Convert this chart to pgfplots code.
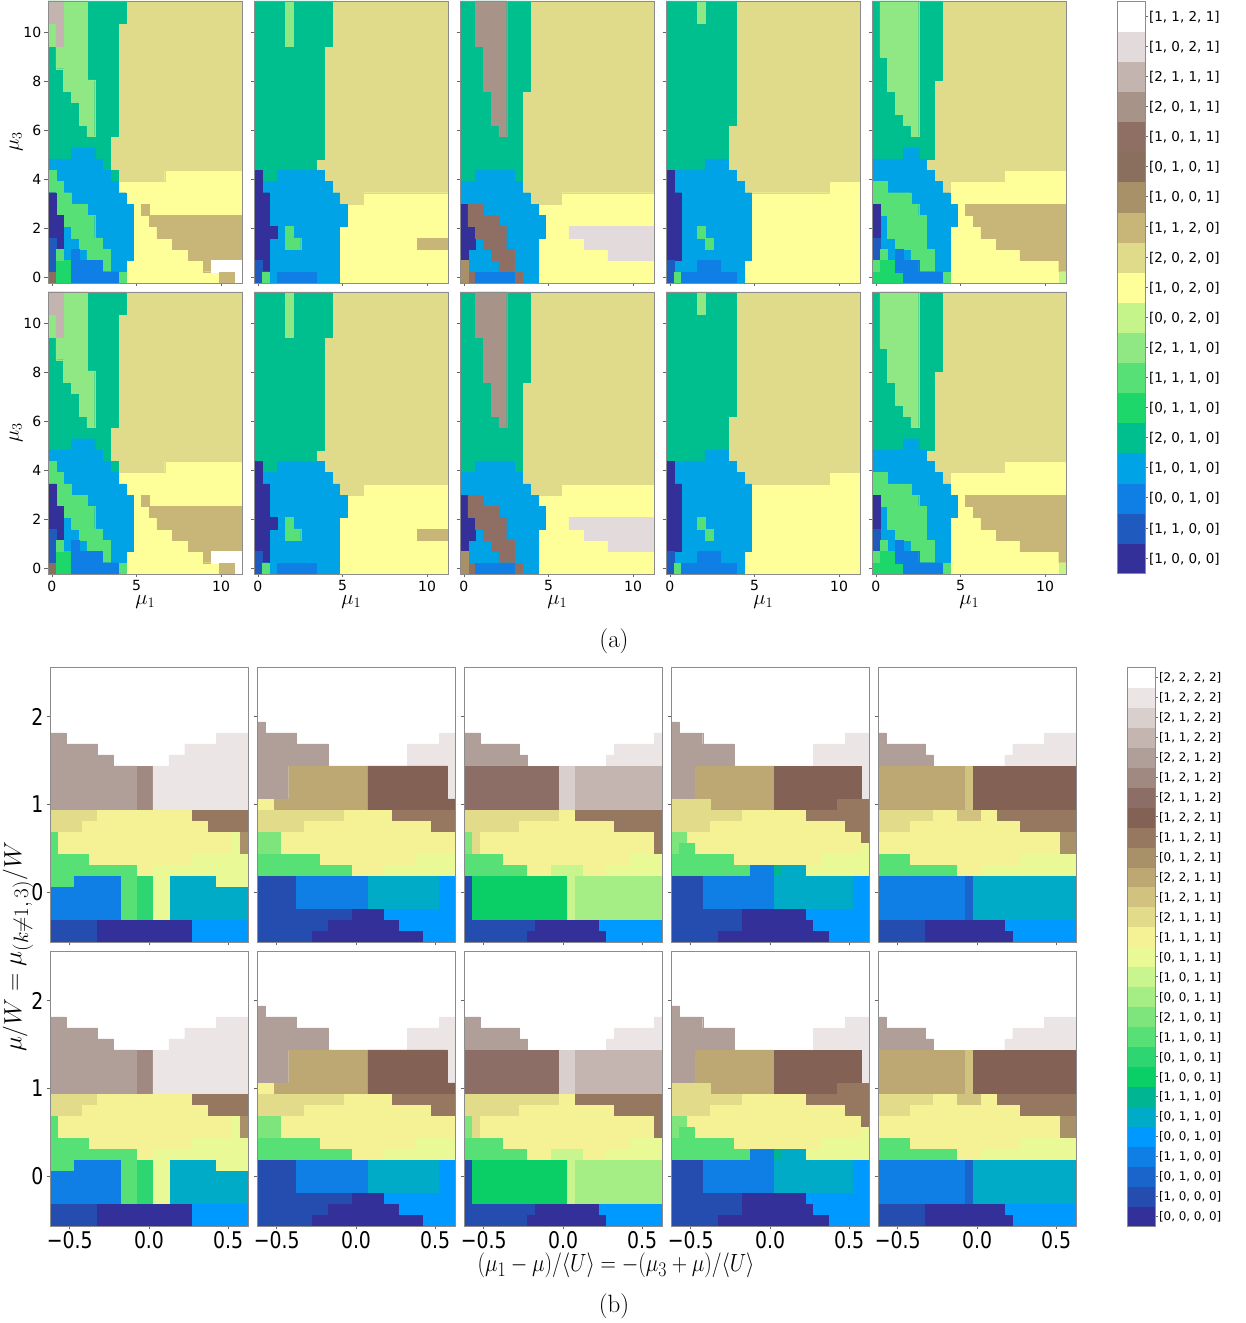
\documentclass[border=0pt]{standalone}
\usepackage{graphicx}
\usepackage{fontspec}
\usepackage{pgfplots}
\pgfplotsset{compat=1.18}
\newfontfamily\djv{DejaVu Sans}
% palette (a)
\definecolor{aWh}{HTML}{FFFFFF}\definecolor{aMv}{HTML}{E3DBDB}\definecolor{aGp}{HTML}{C4B4B0}\definecolor{aTp}{HTML}{A89388}
\definecolor{aBr}{HTML}{8F6F64}\definecolor{aBd}{HTML}{8A6E5E}\definecolor{aTb}{HTML}{A89068}\definecolor{aTn}{HTML}{C8B679}
\definecolor{aK}{HTML}{E0DB8B}\definecolor{aY}{HTML}{FFFF99}\definecolor{aPg}{HTML}{C5F58A}\definecolor{aLg}{HTML}{8FE883}
\definecolor{aG}{HTML}{57E076}\definecolor{aBg}{HTML}{1DD76B}\definecolor{aTe}{HTML}{00BF8F}\definecolor{aB}{HTML}{00A3E6}
\definecolor{aDb}{HTML}{0F7FE6}\definecolor{aMb}{HTML}{1F5ABF}\definecolor{aNv}{HTML}{34309A}
% palette (b)
\definecolor{bWh}{HTML}{FFFFFF}\definecolor{bL}{HTML}{EBE5E5}\definecolor{bMm}{HTML}{D9CFCD}\definecolor{bG}{HTML}{C5B5B0}
\definecolor{bTa}{HTML}{B09E98}\definecolor{bTb}{HTML}{A08980}\definecolor{bBra}{HTML}{8D6E66}\definecolor{bBrb}{HTML}{836155}
\definecolor{bBrc}{HTML}{967860}\definecolor{bBrd}{HTML}{A89068}\definecolor{bSa}{HTML}{BDA873}\definecolor{bSb}{HTML}{D2C27F}
\definecolor{bK}{HTML}{E2DC8A}\definecolor{bY}{HTML}{F5F195}\definecolor{bP}{HTML}{E9F995}\definecolor{bLg}{HTML}{C9F58E}
\definecolor{bMg}{HTML}{A5ED85}\definecolor{bGb}{HTML}{7DE57C}\definecolor{bGr}{HTML}{57E076}\definecolor{bGs}{HTML}{2ED672}
\definecolor{bGt}{HTML}{0ACF66}\definecolor{bTe}{HTML}{00B591}\definecolor{bCy}{HTML}{00ABC8}\definecolor{bSk}{HTML}{0099FF}
\definecolor{bBl}{HTML}{0F7FE6}\definecolor{bBm}{HTML}{1A65CC}\definecolor{bBd}{HTML}{254DB0}\definecolor{bNv}{HTML}{34309A}

% region outlines, given in cell edges of the 25 x 25 grids
\newcommand\PA[2]{\addplot[fill=#1,draw=#1,line width=.25pt] table[row sep=\\,x expr=(\thisrowno{0}-0.5)*0.46,y expr=(\thisrowno{1}-0.5)*0.46]{#2} --cycle;}
\newcommand\RA[5]{\PA{#1}{#2 #4\\#3 #4\\#3 #5\\#2 #5\\}}
\newcommand\PB[2]{\addplot[fill=#1,draw=#1,line width=.25pt] table[row sep=\\,x expr=-0.625+0.05*\thisrowno{0},y expr=-0.5625+0.125*\thisrowno{1}]{#2} --cycle;}
\newcommand\R[5]{\PB{#3}{#4 #1\\#5 #1\\#5 #2\\#4 #2\\}}
\newcommand\CB[3]{\addplot[fill=#1,draw=#1,line width=.25pt] coordinates {(0,#2)(1,#2)(1,#3)(0,#3)} --cycle;}

\newcommand\dAa{%
\RA{aY}{0}{25}{0}{25}
\PA{aK}{10 25\\25 25\\25 10\\15 10\\15 9\\9 9\\9 10\\8 10\\8 13\\9 13\\9 23\\10 23\\}
\PA{aTe}{0 9\\9 9\\9 10\\8 10\\8 13\\9 13\\9 23\\10 23\\10 25\\0 25\\}
\PA{aLg}{0 25\\5 25\\5 18\\6 18\\6 13\\5 13\\5 14\\4 14\\4 16\\3 16\\3 17\\2 17\\2 19\\1 19\\1 21\\0 21\\}
\PA{aGp}{0 25\\2 25\\2 21\\1 21\\1 23\\0 23\\}
\PA{aB}{0 11\\3 11\\3 12\\6 12\\6 11\\7 11\\7 10\\8 10\\8 9\\9 9\\9 8\\10 8\\10 7\\11 7\\11 2\\10 2\\10 0\\0 0\\}
\PA{aG}{0 10\\1 10\\1 9\\2 9\\2 8\\3 8\\3 7\\5 7\\5 6\\6 6\\6 4\\7 4\\7 3\\8 3\\8 1\\7 1\\7 2\\5 2\\5 3\\4 3\\4 4\\3 4\\3 5\\2 5\\2 6\\1 6\\1 8\\0 8\\}
\PA{aNv}{0 8\\1 8\\1 6\\2 6\\2 3\\1 3\\1 4\\0 4\\}
\RA{aMb}{0}{1}{1}{4}
\RA{aBd}{0}{1}{0}{1}
\RA{aBg}{1}{3}{0}{2}
\RA{aG}{1}{2}{2}{3}
\RA{aG}{9}{10}{0}{1}
\PA{aDb}{3 0\\9 0\\9 1\\7 1\\7 2\\4 2\\4 3\\3 3\\}
\RA{aTn}{12}{13}{6}{7}
\PA{aTn}{13 6\\25 6\\25 2\\21 2\\21 1\\20 1\\20 2\\18 2\\18 3\\16 3\\16 4\\14 4\\14 5\\13 5\\}
\RA{aWh}{21}{25}{1}{2}
\RA{aTn}{22}{24}{0}{1}
\RA{aWh}{24}{25}{0}{1}
}
\newcommand\dAb{%
\RA{aY}{0}{25}{0}{25}
\PA{aK}{10 25\\25 25\\25 8\\14 8\\14 7\\11 7\\11 8\\10 8\\10 9\\9 9\\9 10\\8 10\\8 11\\9 11\\9 21\\10 21\\}
\PA{aTe}{0 9\\9 9\\9 10\\8 10\\8 11\\9 11\\9 21\\10 21\\10 25\\0 25\\}
\RA{aLg}{4}{5}{21}{25}
\PA{aB}{0 0\\11 0\\11 5\\12 5\\12 7\\11 7\\11 8\\10 8\\10 9\\9 9\\9 10\\3 10\\3 9\\0 9\\}
\PA{aNv}{0 2\\1 2\\1 1\\2 1\\2 4\\3 4\\3 5\\2 5\\2 8\\1 8\\1 10\\0 10\\}
\RA{aMb}{0}{1}{0}{2}
\RA{aG}{1}{2}{0}{1}
\PA{aG}{4 3\\6 3\\6 4\\5 4\\5 5\\4 5\\}
\RA{aDb}{3}{8}{0}{1}
\RA{aTn}{21}{25}{3}{4}
}
\newcommand\dAc{%
\RA{aY}{0}{25}{0}{25}
\PA{aK}{9 25\\25 25\\25 8\\13 8\\13 7\\9 7\\9 8\\8 8\\8 17\\9 17\\}
\PA{aTe}{0 9\\8 9\\8 17\\9 17\\9 25\\0 25\\}
\PA{aTp}{2 25\\6 25\\6 13\\5 13\\5 14\\4 14\\4 17\\3 17\\3 21\\2 21\\}
\PA{aB}{2 10\\7 10\\7 9\\8 9\\8 8\\9 8\\9 7\\10 7\\10 6\\11 6\\11 4\\10 4\\10 0\\0 0\\0 9\\2 9\\}
\PA{aNv}{0 2\\1 2\\1 3\\2 3\\2 5\\1 5\\1 7\\0 7\\}
\PA{aBr}{1 7\\3 7\\3 6\\5 6\\5 5\\6 5\\6 3\\7 3\\7 1\\5 1\\5 2\\4 2\\4 3\\3 3\\3 4\\2 4\\2 5\\1 5\\}
\RA{aBr}{7}{8}{0}{1}
\RA{aBr}{1}{2}{0}{1}
\RA{aTb}{0}{1}{0}{2}
\RA{aDb}{2}{7}{0}{1}
\PA{aMv}{14 5\\25 5\\25 2\\19 2\\19 3\\16 3\\16 4\\14 4\\}
}
\newcommand\dAd{%
\RA{aY}{0}{25}{0}{25}
\PA{aK}{9 25\\25 25\\25 9\\21 9\\21 8\\10 8\\10 9\\9 9\\9 10\\8 10\\8 14\\9 14\\}
\PA{aTe}{0 10\\5 10\\5 11\\8 11\\8 14\\9 14\\9 25\\0 25\\}
\RA{aLg}{4}{5}{23}{25}
\PA{aB}{0 0\\10 0\\10 2\\11 2\\11 8\\10 8\\10 9\\9 9\\9 10\\8 10\\8 11\\5 11\\5 10\\0 10\\}
\PA{aNv}{0 2\\2 2\\2 8\\1 8\\1 10\\0 10\\}
\RA{aMb}{0}{1}{0}{2}
\RA{aG}{1}{2}{0}{1}
\RA{aG}{4}{5}{4}{5}
\RA{aG}{5}{6}{3}{4}
\RA{aDb}{2}{9}{0}{1}
\RA{aDb}{4}{7}{1}{2}
}
\newcommand\dAe{%
\RA{aY}{0}{25}{0}{25}
\PA{aK}{9 25\\25 25\\25 10\\17 10\\17 9\\10 9\\10 8\\9 8\\9 9\\8 9\\8 10\\7 10\\7 11\\8 11\\8 18\\9 18\\}
\PA{aTe}{0 11\\8 11\\8 18\\9 18\\9 25\\0 25\\}
\PA{aLg}{1 25\\6 25\\6 13\\5 13\\5 14\\4 14\\4 15\\3 15\\3 17\\2 17\\2 20\\1 20\\}
\PA{aB}{0 11\\4 11\\4 12\\6 12\\6 11\\7 11\\7 10\\8 10\\8 9\\9 9\\9 8\\10 8\\10 7\\11 7\\11 5\\10 5\\10 0\\0 0\\}
\PA{aG}{0 9\\2 9\\2 8\\5 8\\5 7\\6 7\\6 6\\7 6\\7 3\\8 3\\8 1\\6 1\\6 2\\5 2\\5 3\\3 3\\3 4\\2 4\\2 6\\1 6\\1 7\\0 7\\}
\RA{aNv}{0}{1}{4}{7}
\RA{aMb}{0}{1}{2}{4}
\RA{aG}{1}{2}{2}{3}
\RA{aG}{0}{1}{1}{2}
\RA{aBg}{1}{3}{1}{2}
\RA{aBg}{0}{4}{0}{1}
\RA{aG}{9}{10}{0}{1}
\PA{aDb}{4 0\\9 0\\9 1\\6 1\\6 2\\4 2\\4 3\\3 3\\3 1\\4 1\\}
\PA{aTn}{12 7\\25 7\\25 1\\24 1\\24 2\\19 2\\19 3\\16 3\\16 4\\14 4\\14 5\\13 5\\13 6\\12 6\\}
\RA{aPg}{24}{25}{0}{1}
}
\newcommand\dBa{%
\PB{bTa}{0 12\\11 12\\11 16\\8 16\\8 17\\6 17\\6 18\\2 18\\2 19\\0 19\\}
\R{12}{16}{bTb}{11}{13}
\PB{bL}{13 12\\25 12\\25 19\\21 19\\21 18\\17 18\\17 17\\15 17\\15 16\\13 16\\}
\R{11}{12}{bK}{0}{6}\R{11}{12}{bY}{6}{18}\R{11}{12}{bBrc}{18}{25}
\R{10}{11}{bK}{0}{4}\R{10}{11}{bY}{4}{20}\R{10}{11}{bBrc}{20}{25}
\R{8}{10}{bGr}{0}{1}\R{8}{10}{bY}{1}{23}\R{8}{10}{bP}{23}{24}\R{8}{10}{bBrd}{24}{25}
\R{7}{8}{bGr}{0}{5}\R{7}{8}{bY}{5}{18}\R{7}{8}{bP}{18}{25}
\R{6}{7}{bGr}{0}{11}\R{6}{7}{bY}{11}{13}\R{6}{7}{bP}{13}{25}
\R{5}{6}{bGr}{0}{3}\R{5}{6}{bBl}{3}{9}\R{5}{6}{bCy}{15}{21}\R{5}{6}{bP}{21}{25}
\R{2}{5}{bBl}{0}{9}\R{2}{5}{bCy}{15}{25}
\R{2}{6}{bGr}{9}{11}\R{2}{6}{bGs}{11}{13}\R{2}{6}{bP}{13}{15}
\R{0}{2}{bBd}{0}{6}\R{0}{2}{bNv}{6}{18}\R{0}{2}{bSk}{18}{25}
}
\newcommand\dBb{%
\PB{bTa}{0 13\\4 13\\4 16\\9 16\\9 18\\5 18\\5 19\\1 19\\1 20\\0 20\\}
\PB{bL}{24 13\\25 13\\25 19\\23 19\\23 18\\19 18\\19 16\\24 16\\}
\PB{bSa}{2 12\\14 12\\14 16\\4 16\\4 13\\2 13\\}
\PB{bBrb}{14 12\\25 12\\25 13\\24 13\\24 16\\14 16\\}
\R{12}{13}{bY}{0}{2}
\R{11}{12}{bK}{0}{11}\R{11}{12}{bY}{11}{17}\R{11}{12}{bBrc}{17}{25}
\R{10}{11}{bK}{0}{6}\R{10}{11}{bY}{6}{22}\R{10}{11}{bBrc}{22}{25}
\R{8}{10}{bGb}{0}{3}\R{8}{10}{bY}{3}{25}
\R{7}{8}{bGr}{0}{8}\R{7}{8}{bY}{8}{20}\R{7}{8}{bP}{20}{25}
\R{6}{7}{bGr}{0}{12}\R{6}{7}{bY}{12}{16}\R{6}{7}{bP}{16}{25}
\R{3}{6}{bBd}{0}{5}\R{3}{6}{bBl}{5}{14}\R{3}{6}{bCy}{14}{23}\R{3}{6}{bSk}{23}{25}
\R{2}{3}{bBd}{0}{12}\R{2}{3}{bNv}{12}{16}\R{2}{3}{bSk}{16}{25}
\R{1}{2}{bBd}{0}{9}\R{1}{2}{bNv}{9}{18}\R{1}{2}{bSk}{18}{25}
\R{0}{1}{bBd}{0}{7}\R{0}{1}{bNv}{7}{21}\R{0}{1}{bSk}{21}{25}
}
\newcommand\dBc{%
\PB{bTa}{0 16\\8 16\\8 17\\7 17\\7 18\\2 18\\2 19\\0 19\\}
\PB{bL}{18 16\\25 16\\25 19\\24 19\\24 18\\19 18\\19 17\\18 17\\}
\R{12}{16}{bBra}{0}{12}\R{12}{16}{bMm}{12}{14}\R{12}{16}{bG}{14}{25}
\R{11}{12}{bK}{0}{12}\R{11}{12}{bY}{12}{14}\R{11}{12}{bBrc}{14}{25}
\R{10}{11}{bK}{0}{7}\R{10}{11}{bY}{7}{19}\R{10}{11}{bBrc}{19}{25}
\R{8}{10}{bGb}{0}{1}\R{8}{10}{bK}{1}{2}\R{8}{10}{bY}{2}{24}\R{8}{10}{bBrc}{24}{25}
\R{7}{8}{bGr}{0}{5}\R{7}{8}{bY}{5}{21}\R{7}{8}{bP}{21}{25}
\R{6}{7}{bGr}{0}{8}\R{6}{7}{bY}{8}{11}\R{6}{7}{bLg}{11}{15}\R{6}{7}{bY}{15}{18}\R{6}{7}{bP}{18}{25}
\R{2}{6}{bBd}{0}{1}\R{2}{6}{bGt}{1}{13}\R{2}{6}{bLg}{13}{14}\R{2}{6}{bMg}{14}{25}
\R{1}{2}{bBd}{0}{9}\R{1}{2}{bNv}{9}{17}\R{1}{2}{bSk}{17}{25}
\R{0}{1}{bBd}{0}{8}\R{0}{1}{bNv}{8}{18}\R{0}{1}{bSk}{18}{25}
}
\newcommand\dBd{%
\PB{bTa}{0 13\\3 13\\3 16\\8 16\\8 18\\4 18\\4 19\\1 19\\1 20\\0 20\\}
\PB{bL}{24 13\\25 13\\25 19\\22 19\\22 18\\18 18\\18 16\\24 16\\}
\PB{bSa}{5 12\\13 12\\13 16\\3 16\\3 13\\5 13\\}
\R{12}{16}{bBrb}{13}{21}\R{13}{16}{bBrb}{21}{24}\R{12}{13}{bBrc}{21}{25}
\R{12}{13}{bK}{0}{5}
\R{11}{12}{bK}{0}{9}\R{11}{12}{bY}{9}{17}\R{11}{12}{bBrc}{17}{25}
\R{10}{11}{bK}{0}{5}\R{10}{11}{bY}{5}{22}\R{10}{11}{bBrc}{22}{25}
\R{9}{10}{bGb}{0}{2}\R{9}{10}{bY}{2}{24}\R{9}{10}{bBrc}{24}{25}
\R{8}{9}{bGb}{0}{1}\R{8}{9}{bGr}{1}{3}\R{8}{9}{bY}{3}{24}\R{8}{9}{bP}{24}{25}
\R{7}{8}{bGr}{0}{8}\R{7}{8}{bY}{8}{19}\R{7}{8}{bP}{19}{25}
\R{6}{7}{bGr}{0}{10}\R{6}{7}{bBl}{10}{13}\R{6}{7}{bTe}{13}{14}\R{6}{7}{bCy}{14}{17}\R{6}{7}{bP}{17}{25}
\R{3}{6}{bBd}{0}{4}\R{3}{6}{bBl}{4}{13}\R{3}{6}{bCy}{13}{23}\R{3}{6}{bSk}{23}{25}
\R{2}{3}{bBd}{0}{9}\R{2}{3}{bNv}{9}{17}\R{2}{3}{bSk}{17}{25}
\R{1}{2}{bBd}{0}{9}\R{1}{2}{bNv}{9}{18}\R{1}{2}{bSk}{18}{25}
\R{0}{1}{bBd}{0}{6}\R{0}{1}{bNv}{6}{20}\R{0}{1}{bSk}{20}{25}
}
\newcommand\dBe{%
\PB{bTa}{0 16\\7 16\\7 17\\6 17\\6 18\\1 18\\1 19\\0 19\\}
\PB{bL}{16 16\\25 16\\25 19\\21 19\\21 18\\17 18\\17 17\\16 17\\}
\R{12}{16}{bSa}{0}{11}\R{12}{16}{bSb}{11}{12}\R{12}{16}{bBrb}{12}{25}
\R{11}{12}{bK}{0}{7}\R{11}{12}{bY}{7}{10}\R{11}{12}{bSb}{10}{13}\R{11}{12}{bY}{13}{15}\R{11}{12}{bBrc}{15}{25}
\R{10}{11}{bK}{0}{4}\R{10}{11}{bY}{4}{18}\R{10}{11}{bBrc}{18}{25}
\R{8}{10}{bY}{0}{23}\R{8}{10}{bBrd}{23}{25}
\R{7}{8}{bGr}{0}{4}\R{7}{8}{bY}{4}{18}\R{7}{8}{bP}{18}{25}
\R{6}{7}{bGr}{0}{10}\R{6}{7}{bY}{10}{13}\R{6}{7}{bP}{13}{25}
\R{2}{6}{bBl}{0}{11}\R{2}{6}{bBm}{11}{12}\R{2}{6}{bCy}{12}{25}
\R{1}{2}{bBd}{0}{6}\R{1}{2}{bNv}{6}{16}\R{1}{2}{bSk}{16}{25}
\R{0}{1}{bBd}{0}{6}\R{0}{1}{bNv}{6}{17}\R{0}{1}{bSk}{17}{25}
}
\newcommand\bt[1]{\scalebox{0.82}[1]{#1}}
\pgfplotsset{
 base/.style={scale only axis,axis on top,tick align=outside,xtick pos=bottom,ytick pos=left,
   axis line style={color=black!45,line width=.9pt},tick style={color=black!60,line width=.7pt},major tick length=3.5pt},
 pa/.style={base,width=194.5pt,height=282pt,xmin=-0.23,xmax=11.27,ymin=-0.23,ymax=11.27,
   xtick={0,5,10},ytick={0,2,4,6,8,10},xticklabels={},yticklabels={},
   tick label style={font=\fontsize{14}{14}\selectfont\djv,inner sep=0pt},
   xticklabel style={yshift=-3pt},yticklabel style={xshift=-3pt},
   xlabel style={at={(axis description cs:0.5,-0.098)},anchor=center,inner sep=0pt,font=\fontsize{20}{20}\selectfont},
   ylabel style={at={(axis description cs:-0.164,0.5)},anchor=center,inner sep=0pt,font=\fontsize{20}{20}\selectfont}},
 lx/.style={xticklabels={0,5,10},xlabel={$\mu_1$}},
 ly/.style={yticklabels={0,2,4,6,8,10},ylabel={$\mu_3$}},
 pb/.style={base,width=198pt,height=275pt,xmin=-0.625,xmax=0.625,ymin=-0.5625,ymax=2.5625,
   xtick={-0.5,0,0.5},ytick={0,1,2},xticklabels={},yticklabels={},
   tick label style={font=\fontsize{23}{23}\selectfont\djv,inner sep=0pt},
   xticklabel style={yshift=-2pt},yticklabel style={xshift=-3pt}},
 bx/.style={xticklabels={\bt{−0.5},\bt{0.0},\bt{0.5}}},
 by/.style={yticklabels={\bt{0},\bt{1},\bt{2}}},
 cbar/.style={scale only axis,axis on top,width=28pt,xmin=0,xmax=1,xtick=\empty,tick align=outside,ytick pos=right,
   axis line style={color=black!45,line width=.9pt},tick style={color=black!60,line width=.6pt},major tick length=3pt,
   yticklabel style={anchor=west,xshift=-2.5pt,yshift=-1pt}},
}
\begin{document}
\begin{tikzpicture}[x=1pt,y=1pt]
\useasboundingbox (0,0) rectangle (1246,1323);
% ---------- (a)
\begin{axis}[pa,ly,at={(48pt,1040pt)}]\dAa\end{axis}
\begin{axis}[pa,at={(254pt,1040pt)}]\dAb\end{axis}
\begin{axis}[pa,at={(460pt,1040pt)}]\dAc\end{axis}
\begin{axis}[pa,at={(666pt,1040pt)}]\dAd\end{axis}
\begin{axis}[pa,at={(872pt,1040pt)}]\dAe\end{axis}
\begin{axis}[pa,lx,ly,at={(48pt,749pt)}]\dAa\end{axis}
\begin{axis}[pa,lx,at={(254pt,749pt)}]\dAb\end{axis}
\begin{axis}[pa,lx,at={(460pt,749pt)}]\dAc\end{axis}
\begin{axis}[pa,lx,at={(666pt,749pt)}]\dAd\end{axis}
\begin{axis}[pa,lx,at={(872pt,749pt)}]\dAe\end{axis}
\begin{axis}[cbar,at={(1117pt,750pt)},height=572pt,ymin=0,ymax=19,
  ytick={0.5,1.5,2.5,3.5,4.5,5.5,6.5,7.5,8.5,9.5,10.5,11.5,12.5,13.5,14.5,15.5,16.5,17.5,18.5},
  yticklabels={{[1, 0, 0, 0]},{[1, 1, 0, 0]},{[0, 0, 1, 0]},{[1, 0, 1, 0]},{[2, 0, 1, 0]},{[0, 1, 1, 0]},{[1, 1, 1, 0]},{[2, 1, 1, 0]},{[0, 0, 2, 0]},{[1, 0, 2, 0]},{[2, 0, 2, 0]},{[1, 1, 2, 0]},{[1, 0, 0, 1]},{[0, 1, 0, 1]},{[1, 0, 1, 1]},{[2, 0, 1, 1]},{[2, 1, 1, 1]},{[1, 0, 2, 1]},{[1, 1, 2, 1]}},
  yticklabel style={font=\fontsize{13.5}{14}\selectfont\djv}]
\CB{aNv}{0}{1}\CB{aMb}{1}{2}\CB{aDb}{2}{3}\CB{aB}{3}{4}\CB{aTe}{4}{5}\CB{aBg}{5}{6}\CB{aG}{6}{7}\CB{aLg}{7}{8}\CB{aPg}{8}{9}\CB{aY}{9}{10}\CB{aK}{10}{11}\CB{aTn}{11}{12}\CB{aTb}{12}{13}\CB{aBd}{13}{14}\CB{aBr}{14}{15}\CB{aTp}{15}{16}\CB{aGp}{16}{17}\CB{aMv}{17}{18}\CB{aWh}{18}{19}
\end{axis}
% ---------- (b)
\begin{axis}[pb,by,at={(50pt,381pt)}]\dBa\end{axis}
\begin{axis}[pb,at={(257pt,381pt)}]\dBb\end{axis}
\begin{axis}[pb,at={(464pt,381pt)}]\dBc\end{axis}
\begin{axis}[pb,at={(671pt,381pt)}]\dBd\end{axis}
\begin{axis}[pb,at={(878pt,381pt)}]\dBe\end{axis}
\begin{axis}[pb,bx,by,at={(50pt,97pt)}]\dBa\end{axis}
\begin{axis}[pb,bx,at={(257pt,97pt)}]\dBb\end{axis}
\begin{axis}[pb,bx,at={(464pt,97pt)}]\dBc\end{axis}
\begin{axis}[pb,bx,at={(671pt,97pt)}]\dBd\end{axis}
\begin{axis}[pb,bx,at={(878pt,97pt)}]\dBe\end{axis}
\begin{axis}[cbar,at={(1127pt,97pt)},height=559pt,ymin=0,ymax=28,
  ytick={0.5,1.5,2.5,3.5,4.5,5.5,6.5,7.5,8.5,9.5,10.5,11.5,12.5,13.5,14.5,15.5,16.5,17.5,18.5,19.5,20.5,21.5,22.5,23.5,24.5,25.5,26.5,27.5},
  yticklabels={{[0, 0, 0, 0]},{[1, 0, 0, 0]},{[0, 1, 0, 0]},{[1, 1, 0, 0]},{[0, 0, 1, 0]},{[0, 1, 1, 0]},{[1, 1, 1, 0]},{[1, 0, 0, 1]},{[0, 1, 0, 1]},{[1, 1, 0, 1]},{[2, 1, 0, 1]},{[0, 0, 1, 1]},{[1, 0, 1, 1]},{[0, 1, 1, 1]},{[1, 1, 1, 1]},{[2, 1, 1, 1]},{[1, 2, 1, 1]},{[2, 2, 1, 1]},{[0, 1, 2, 1]},{[1, 1, 2, 1]},{[1, 2, 2, 1]},{[2, 1, 1, 2]},{[1, 2, 1, 2]},{[2, 2, 1, 2]},{[1, 1, 2, 2]},{[2, 1, 2, 2]},{[1, 2, 2, 2]},{[2, 2, 2, 2]}},
  yticklabel style={font=\fontsize{11.9}{12}\selectfont\djv}]
\CB{bNv}{0}{1}\CB{bBd}{1}{2}\CB{bBm}{2}{3}\CB{bBl}{3}{4}\CB{bSk}{4}{5}\CB{bCy}{5}{6}\CB{bTe}{6}{7}\CB{bGt}{7}{8}\CB{bGs}{8}{9}\CB{bGr}{9}{10}\CB{bGb}{10}{11}\CB{bMg}{11}{12}\CB{bLg}{12}{13}\CB{bP}{13}{14}\CB{bY}{14}{15}\CB{bK}{15}{16}\CB{bSb}{16}{17}\CB{bSa}{17}{18}\CB{bBrd}{18}{19}\CB{bBrc}{19}{20}\CB{bBrb}{20}{21}\CB{bBra}{21}{22}\CB{bTb}{22}{23}\CB{bTa}{23}{24}\CB{bG}{24}{25}\CB{bMm}{25}{26}\CB{bL}{26}{27}\CB{bWh}{27}{28}
\end{axis}
\node at (614,682) {\fontsize{25}{25}\selectfont (a)};
\node at (614,17) {\fontsize{25}{25}\selectfont (b)};
\node[inner sep=0pt] at (616,57.5) {\resizebox{277pt}{\height}{\fontsize{24.88}{26}\selectfont $(\mu_1-\mu)/\langle U\rangle=-(\mu_3+\mu)/\langle U\rangle$}};
\node[rotate=90,inner sep=0pt] at (18,376) {\resizebox{210pt}{\height}{\fontsize{24.88}{26}\selectfont $\mu/W=\mu_{(k\neq1,\,3)}/W$}};
\end{tikzpicture}
\end{document}
